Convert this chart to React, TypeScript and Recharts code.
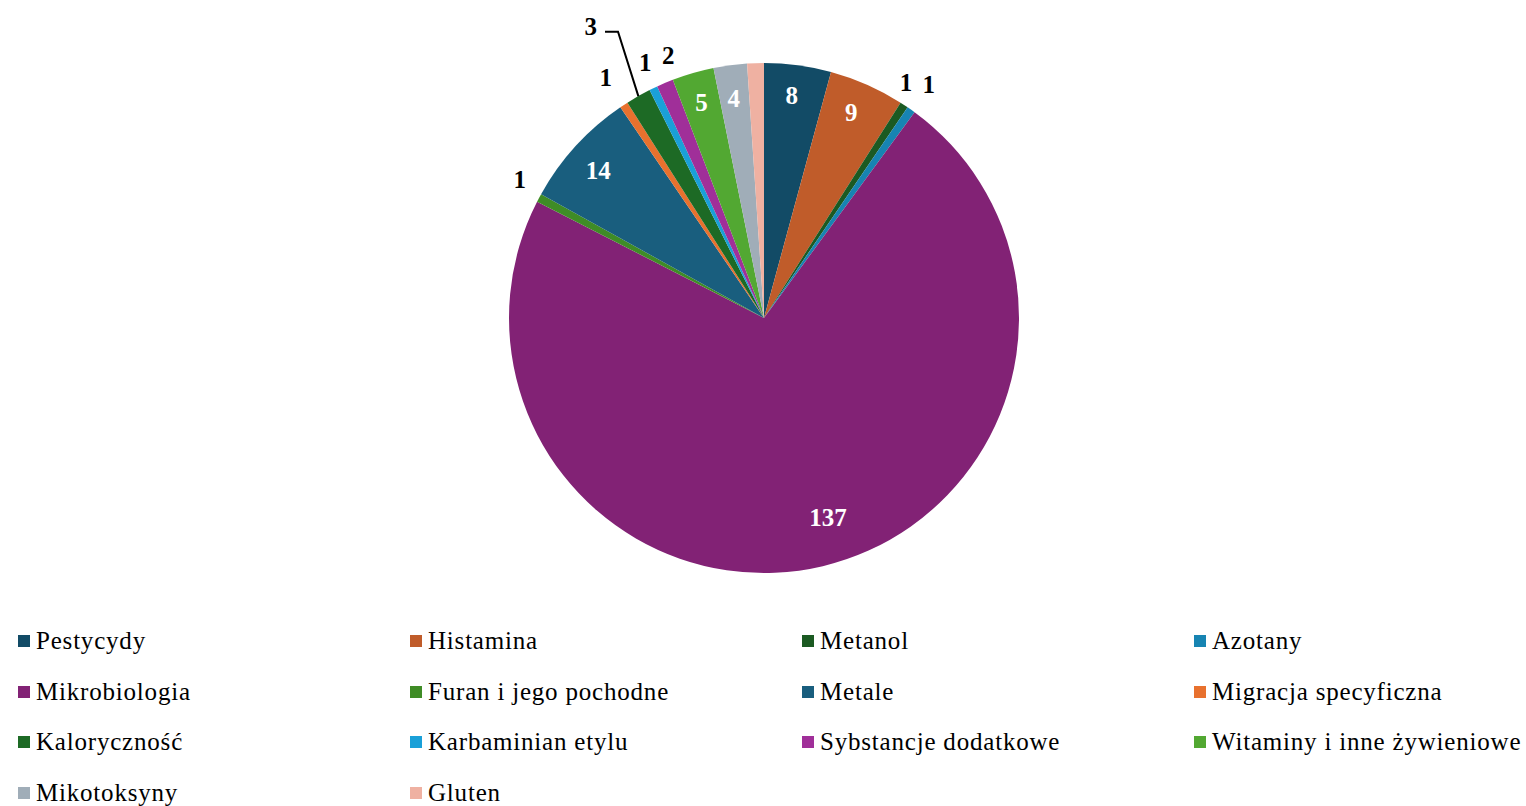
import React from 'react';
import { PieChart, Pie, Cell, Legend } from 'recharts';

const categories = [
  'Pestycydy', 'Histamina', 'Metanol', 'Azotany',
  'Mikrobiologia', 'Furan i jego pochodne', 'Metale', 'Migracja specyficzna',
  'Kaloryczność', 'Karbaminian etylu', 'Sybstancje dodatkowe', 'Witaminy i inne żywieniowe',
  'Mikotoksyny', 'Gluten',
];
const values = [8, 9, 1, 1, 137, 1, 14, 1, 3, 1, 2, 5, 4, 2];
const colors = [
  '#124B66', '#C05C2A', '#1B5A22', '#1784B2',
  '#822275', '#3F8C26', '#195E7E', '#E8712E',
  '#1D6A25', '#1AA0D8', '#A02F99', '#52A832',
  '#A0ADB8', '#EFB1A2',
];
const showLabel = [true, true, true, true, true, true, true, true, true, true, true, true, true, false];

// label placement: [radius factor, angle nudge in degrees clockwise, inside?]
const labelPlace: [number, number, boolean][] = [
  [0.88, -0.5, true], [0.875, -0.8, true], [1.08, -2.3, false], [1.12, 0, false],
  [0.82, -4.5, true], [1.1, 1.4, false], [0.87, -0.7, true], [1.13, 0, false],
  [1.33, -1.2, false], [1.105, 0.8, false], [1.095, 2.8, false], [0.88, 0, true],
  [0.87, -0.2, true], [1, 0, false],
];

const data = categories.map((name, i) => ({ name, value: values[i] }));
const RAD = Math.PI / 180;
const FONT = '"Liberation Serif", "Times New Roman", serif';

const renderLabel = (props: any) => {
  const { cx, cy, midAngle, outerRadius, index, value } = props;
  if (!showLabel[index]) return null;
  const [rf, nudge, inside] = labelPlace[index];
  const alpha = 90 - midAngle + nudge;
  const R = outerRadius * rf;
  const x = cx + R * Math.sin(alpha * RAD);
  const y = cy - R * Math.cos(alpha * RAD);
  const text = (
    <text x={x} y={y} textAnchor="middle" dominantBaseline="central"
      fill={inside ? '#ffffff' : '#000000'} fontFamily={FONT} fontWeight="bold" fontSize={25}>
      {value}
    </text>
  );
  if (index === 8) {
    const a0 = 90 - midAngle;
    const sx = cx + outerRadius * Math.sin(a0 * RAD);
    const sy = cy - outerRadius * Math.cos(a0 * RAD);
    const ea = a0 + 2.5;
    const er = outerRadius * 1.26;
    const ex = cx + er * Math.sin(ea * RAD);
    const ey = cy - er * Math.cos(ea * RAD);
    return (
      <g>
        <polyline points={`${sx},${sy} ${ex},${ey} ${ex - 13},${ey}`} fill="none" stroke="#000" strokeWidth={2} />
        {text}
      </g>
    );
  }
  return text;
};

const renderLegend = () => (
  <div style={{ display: 'grid', gridTemplateColumns: '392px 392px 392px 350px', rowGap: 0, fontFamily: FONT }}>
    {categories.map((c, i) => (
      <div key={c} style={{ height: 50.5, display: 'flex', alignItems: 'center', paddingLeft: 18 }}>
        <span style={{ width: 12, height: 12, background: colors[i], display: 'inline-block', marginRight: 6 }} />
        <span style={{ fontSize: 25, color: '#000', letterSpacing: 0.8, whiteSpace: 'nowrap' }}>{c}</span>
      </div>
    ))}
  </div>
);

export default function App() {
  return (
    <div style={{ position: 'absolute', left: 0, top: 0, width: 1526, height: 806, background: '#fff' }}>
      <PieChart width={1526} height={806} margin={{ top: 0, right: 0, bottom: 0, left: 0 }}>
        <Pie
          data={data}
          dataKey="value"
          nameKey="name"
          cx={764}
          cy={318}
          outerRadius={255}
          startAngle={90}
          endAngle={-270}
          stroke="none"
          label={renderLabel}
          labelLine={false}
          isAnimationActive={false}
        >
          {data.map((d, i) => (
            <Cell key={d.name} fill={colors[i]} />
          ))}
        </Pie>
        <Legend content={renderLegend} wrapperStyle={{ left: 0, top: 616, width: 1526 }} />
      </PieChart>
    </div>
  );
}
